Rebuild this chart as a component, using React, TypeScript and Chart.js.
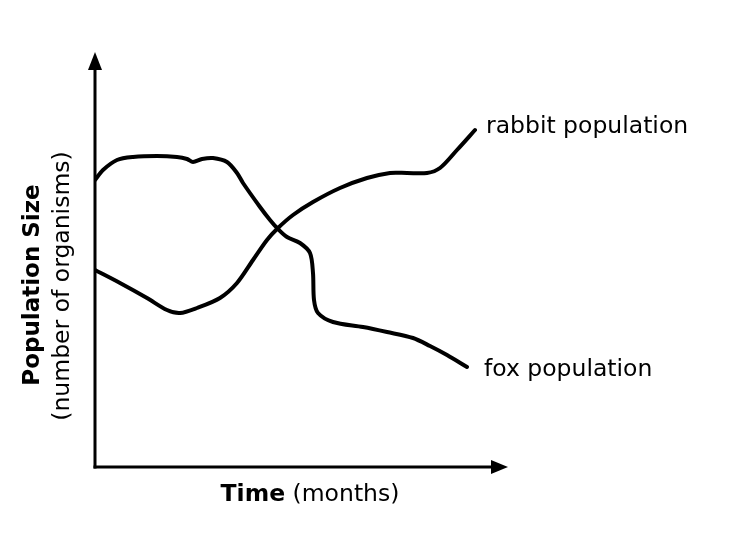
import React, { useEffect, useRef } from "react";
import { Chart, registerables } from "chart.js";

Chart.register(...registerables);

// Time in arbitrary units, population size in arbitrary units
const rabbitX = [0, 2.5, 5.2, 7.2, 8.5, 10.2, 12.5, 14.2, 15.8, 17.2, 18.3, 19.8, 21.8, 24.5, 27.2, 29.5, 31.2, 33.2, 34.5, 36.2, 38.0];
const rabbitY = [19.7, 18.4, 16.9, 15.7, 15.4, 15.9, 16.9, 18.4, 20.7, 22.7, 23.9, 25.2, 26.5, 27.9, 28.9, 29.4, 29.4, 29.4, 29.9, 31.7, 33.7];

const foxX = [0, 0.8, 2.2, 3.8, 6.2, 8.2, 9.2, 9.8, 10.7, 11.8, 13.2, 14.2, 14.8, 16.5, 17.5, 18.3, 19.2, 20.5, 21.5, 21.8, 21.9, 22.3, 23.8, 26.8, 29.2, 31.8, 33.5, 35.2, 37.2];
const foxY = [28.7, 29.7, 30.7, 31.0, 31.1, 31.0, 30.8, 30.5, 30.8, 30.9, 30.5, 29.4, 28.4, 26.0, 24.7, 23.8, 23.0, 22.4, 21.4, 19.4, 16.7, 15.4, 14.5, 14.0, 13.5, 12.9, 12.1, 11.2, 10.0];

const seriesLabels = ["rabbit population", "fox population"];
const xTitleBold = "Time";
const xTitleRest = " (months)";
const yTitleBold = "Population Size";
const yTitleRest = "(number of organisms)";

const FONT = "'DejaVu Sans', Verdana, sans-serif";
const FS = 23.5;

const toPoints = (xs: number[], ys: number[]) => xs.map((x, i) => ({ x, y: ys[i] }));

const axesPlugin = {
  id: "axesArrows",
  afterDraw(chart: any) {
    const ctx = chart.ctx as CanvasRenderingContext2D;
    const xs = chart.scales.x;
    const ys = chart.scales.y;
    const x0 = xs.getPixelForValue(0);
    const y0 = ys.getPixelForValue(0);
    ctx.save();
    ctx.strokeStyle = "#000";
    ctx.fillStyle = "#000";
    ctx.lineWidth = 3;
    ctx.lineCap = "butt";
    // vertical axis
    const topTip = 52;
    ctx.beginPath();
    ctx.moveTo(x0, y0 + 1.5);
    ctx.lineTo(x0, topTip + 10);
    ctx.stroke();
    ctx.beginPath();
    ctx.moveTo(x0, topTip);
    ctx.lineTo(x0 - 7, topTip + 18);
    ctx.lineTo(x0 + 7, topTip + 18);
    ctx.closePath();
    ctx.fill();
    // horizontal axis
    const rightTip = 508;
    ctx.beginPath();
    ctx.moveTo(x0 - 1.5, y0);
    ctx.lineTo(rightTip - 10, y0);
    ctx.stroke();
    ctx.beginPath();
    ctx.moveTo(rightTip, y0);
    ctx.lineTo(rightTip - 17, y0 - 7);
    ctx.lineTo(rightTip - 17, y0 + 7);
    ctx.closePath();
    ctx.fill();

    // x title
    ctx.textBaseline = "middle";
    ctx.font = `bold ${FS}px ${FONT}`;
    const wb = ctx.measureText(xTitleBold).width;
    ctx.font = `${FS}px ${FONT}`;
    const wr = ctx.measureText(xTitleRest).width;
    const cx = 310;
    const sx = cx - (wb + wr) / 2;
    ctx.textAlign = "left";
    ctx.font = `bold ${FS}px ${FONT}`;
    ctx.fillText(xTitleBold, sx, 495);
    ctx.font = `${FS}px ${FONT}`;
    ctx.fillText(xTitleRest, sx + wb, 495);

    // y titles
    ctx.save();
    ctx.translate(33, 285);
    ctx.rotate(-Math.PI / 2);
    ctx.textAlign = "center";
    ctx.font = `bold 23px ${FONT}`;
    ctx.fillText(yTitleBold, 0, 0);
    ctx.restore();
    ctx.save();
    ctx.translate(63, 286);
    ctx.rotate(-Math.PI / 2);
    ctx.textAlign = "center";
    ctx.font = `${FS}px ${FONT}`;
    ctx.fillText(yTitleRest, 0, 0);
    ctx.restore();

    // series labels at line ends
    ctx.textAlign = "left";
    ctx.font = `${FS}px ${FONT}`;
    const rx = xs.getPixelForValue(rabbitX[rabbitX.length - 1]);
    const ry = ys.getPixelForValue(rabbitY[rabbitY.length - 1]);
    ctx.fillText(seriesLabels[0], rx + 11, ry - 3);
    const fx = xs.getPixelForValue(foxX[foxX.length - 1]);
    const fy = ys.getPixelForValue(foxY[foxY.length - 1]);
    ctx.fillText(seriesLabels[1], fx + 17, fy + 3);
    ctx.restore();
  },
};

export default function App() {
  const ref = useRef<HTMLCanvasElement | null>(null);
  useEffect(() => {
    if (!ref.current) return;
    const chart = new Chart(ref.current, {
      type: "scatter",
      data: {
        datasets: [
          {
            label: seriesLabels[0],
            data: toPoints(rabbitX, rabbitY),
            showLine: true,
            borderColor: "#000",
            borderWidth: 4,
            pointRadius: 0,
            tension: 0.3,
            borderCapStyle: "round",
            borderJoinStyle: "round",
          },
          {
            label: seriesLabels[1],
            data: toPoints(foxX, foxY),
            showLine: true,
            borderColor: "#000",
            borderWidth: 4,
            pointRadius: 0,
            tension: 0.3,
            borderCapStyle: "round",
            borderJoinStyle: "round",
          },
        ],
      },
      options: {
        animation: false,
        responsive: false,
        maintainAspectRatio: false,
        layout: { padding: { left: 95, top: 55, right: 235, bottom: 89 } },
        plugins: { legend: { display: false }, tooltip: { enabled: false } },
        scales: {
          x: { type: "linear", min: 0, max: 41, display: false },
          y: { type: "linear", min: 0, max: 41.2, display: false },
        },
      },
      plugins: [axesPlugin],
    } as any);
    return () => chart.destroy();
  }, []);
  return (
    <div style={{ position: "fixed", left: 0, top: 0, width: 740, height: 556, background: "#fff" }}>
      <canvas ref={ref} width={740} height={556} style={{ width: 740, height: 556 }} />
    </div>
  );
}
